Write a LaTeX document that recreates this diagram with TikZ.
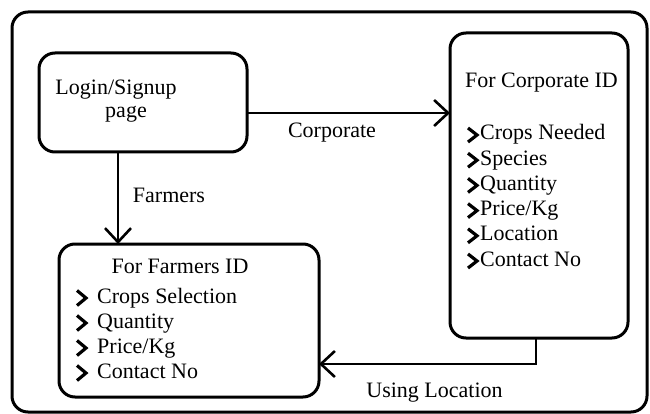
\documentclass[tikz,border=0pt]{standalone}
\usepackage{fontspec}
\setmainfont{Liberation Serif}
\newfontfamily\tnr{Liberation Serif}
\usetikzlibrary{arrows.meta,calc}
\begin{document}
\begin{tikzpicture}[x=1pt,y=-1pt,
  box/.style={draw,line width=3pt,rounded corners=16pt,inner sep=0pt,outer sep=0pt,anchor=north west},
  lbl/.style={font=\tnr\fontsize{22}{23}\selectfont,inner sep=0pt},
  arr/.style={line width=2.4pt,-{Straight Barb[length=14pt,width=26pt,line width=2.6pt]}},
  chev/.style={line width=3.2pt,miter limit=10}]
\fill[white] (0,0) rectangle (650,414);
\useasboundingbox (0,0) rectangle (650,414);
% boxes
\node[box,minimum width=635pt,minimum height=400pt] (frame) at (12,12) {};
\node[box,minimum width=208pt,minimum height=99pt] (login) at (39,53) {};
\node[box,minimum width=178pt,minimum height=305pt] (corp) at (450,33) {};
\node[box,minimum width=260pt,minimum height=153pt] (farm) at (59,244) {};
% login text
\node[lbl,anchor=base] (logintxt) at (116,95) {Login/Signup};
\node[lbl,anchor=base] (pagetxt) at (126,118) {page};
% corporate list
\node[lbl,anchor=base] (corptitle) at (541.5,88) {For Corporate ID};
\foreach \t [count=\i] in {Crops Needed,Species,Quantity,{Price/Kg},Location,Contact No} {
  \pgfmathsetmacro\b{140+25.2*(\i-1)}
  \node[lbl,anchor=base west] (ci\i) at (480,\b) {\t};
  \draw[chev] (468,\b-12) -- (477,\b-5) -- (468,\b+2);
}
% farmers list
\node[lbl,anchor=base] (farmtitle) at (180,273) {For Farmers ID};
\foreach \t [count=\i] in {Crops Selection,Quantity,{Price/Kg},Contact No} {
  \pgfmathsetmacro\b{303+25*(\i-1)}
  \node[lbl,anchor=base west] (fi\i) at (97,\b) {\t};
  \draw[chev] (77,\b-12.5) -- (86,\b-5) -- (77,\b+2.5);
}
% connectors
\draw[arr] ([yshift=-10.5pt]login.east) -- ([yshift=-10.5pt]login.east -| corp.west);
\draw[arr] ([xshift=-25pt]login.south) -- ([xshift=-25pt]login.south |- farm.north);
\draw[arr] ([xshift=-3pt]corp.south) |- ([yshift=-43.5pt]farm.east);
% labels
\node[lbl,anchor=base] (lcorp) at (332,138) {Corporate};
\node[lbl,anchor=base] (lfarm) at (169,203) {Farmers};
\node[lbl,anchor=base] (lusing) at (434.5,397) {Using Location};
\end{tikzpicture}
\end{document}
